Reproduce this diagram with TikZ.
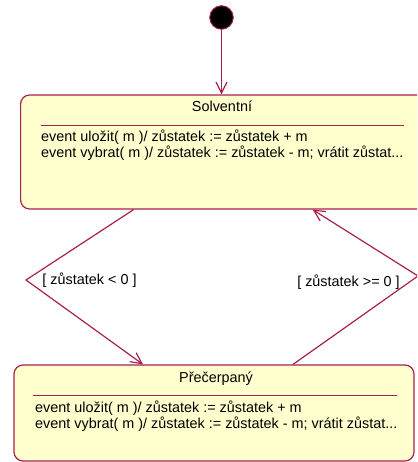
\documentclass[tikz,border=0pt]{standalone}
\usepackage{fontspec}
\setmainfont{Liberation Sans}
\usetikzlibrary{arrows.meta}
\definecolor{umlred}{RGB}{168,32,80}
\definecolor{umlfill}{RGB}{255,255,206}

\begin{document}
\begin{tikzpicture}[x=1pt,y=-1pt,
	font=\fontsize{14.4}{16}\selectfont,
	state/.style={draw=umlred, fill=umlfill, line width=1.2pt, rounded corners=9pt, inner sep=0pt},
	trans/.style={draw=umlred, line width=1.2pt, -{Straight Barb[length=11pt,width=11pt]}},
	sep/.style={draw=umlred, line width=1pt},
	txt/.style={anchor=base west, inner sep=0pt},
	]
	\useasboundingbox (0,0) rectangle (417,462);
	\clip (0,0) rectangle (417,462);
	
	\node[circle, fill=black, draw=umlred, line width=1pt, minimum size=23.5pt, inner sep=0pt] (I) at (221.5,17.5) {};
	
	\node[state, minimum width=412pt, minimum height=114pt, anchor=west] (S) at (20,152) {};
	\node[anchor=base, inner sep=0pt] (Sname) at (222,112) {Solventní};
	\draw[sep] ([xshift=21pt,yshift=-31pt]S.north west) -- ([xshift=-29pt,yshift=-31pt]S.north east);
	\node[txt] (S1) at (41,142) {event uložit( m )/ zůstatek := zůstatek + m};
	\node[txt] (S2) at (41,158) {event vybrat( m )/ zůstatek := zůstatek - m; vrátit zůstat...};
	
	\node[state, minimum width=400pt, minimum height=96pt] (P) at (214,413) {};
	\node[anchor=base, inner sep=0pt] (Pname) at (216,382) {Přečerpaný};
	\draw[sep] ([xshift=20pt,yshift=-31pt]P.north west) -- ([xshift=-18pt,yshift=-31pt]P.north east);
	\node[txt] (P1) at (35,412) {event uložit( m )/ zůstatek := zůstatek + m};
	\node[txt] (P2) at (35,428) {event vybrat( m )/ zůstatek := zůstatek - m; vrátit zůstat...};
	
	\coordinate (L) at (26,280);
	\coordinate (R) at (418,276);
	
	\draw[trans] (I) -- (S.north -| I);
	\draw[trans] ([xshift=-93pt]S.south) -- (L) -- ([xshift=-71pt]P.north);
	\draw[trans] ([xshift=79pt]P.north) -- (R) -- ([xshift=86pt]S.south);
	
	\node (g1) at (89.5,280.5) {[ zůstatek < 0 ]};
	\node (g2) at (348.5,282) {[ zůstatek >= 0 ]};
	
\end{tikzpicture}
\end{document}
